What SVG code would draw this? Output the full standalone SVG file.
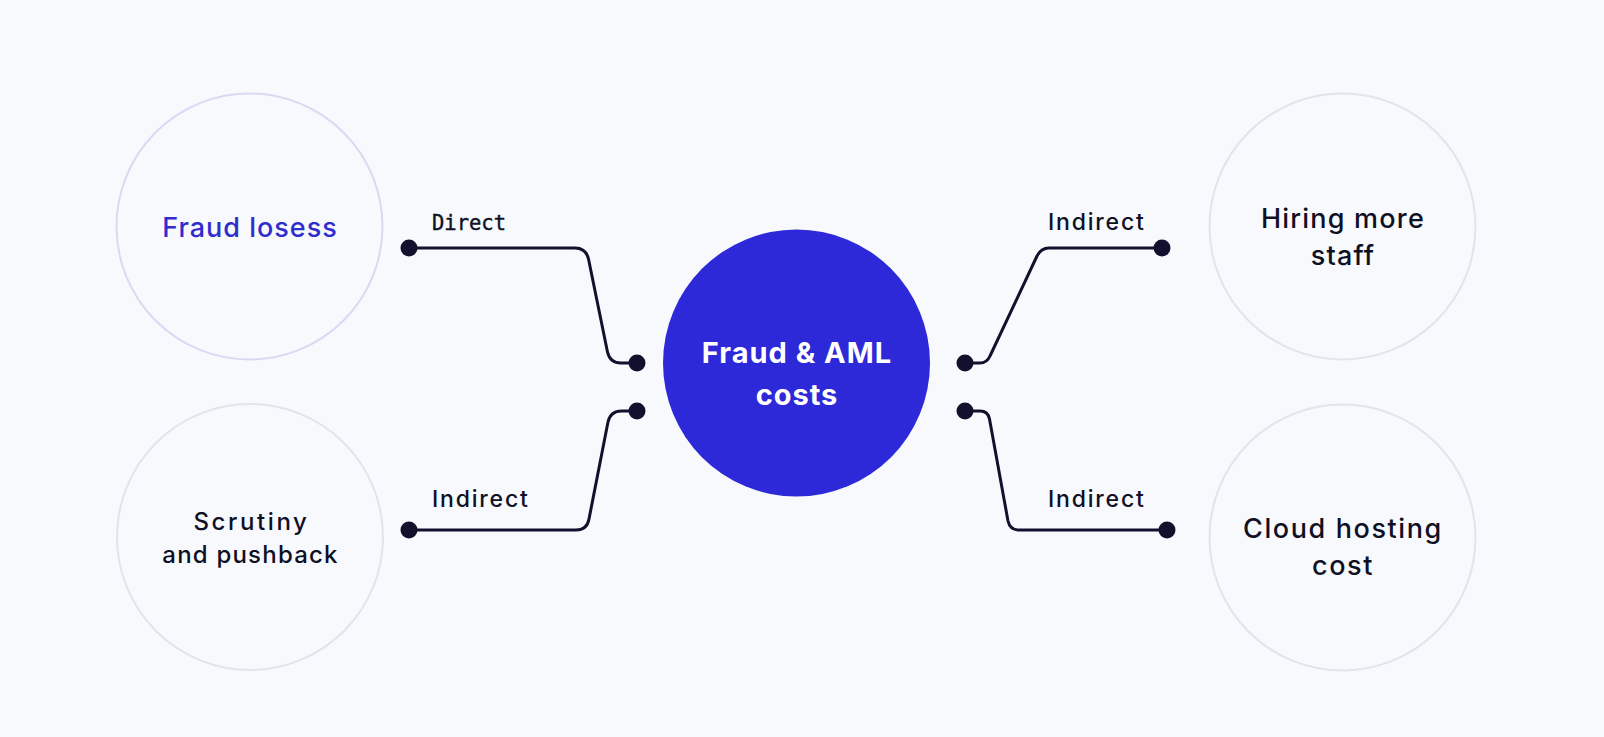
<svg xmlns="http://www.w3.org/2000/svg" width="1604" height="737" viewBox="0 0 1604 737">
  <style>
    .ring { fill: none; stroke: #e1e4ec; stroke-width: 2; }
    .ring-accent { fill: none; stroke: #d9d9f3; stroke-width: 2; }
    .label { font-family: Inter, "Liberation Sans", sans-serif; font-size: 27px; font-weight: 500; letter-spacing: 1.2px; fill: #0f1024; text-anchor: middle; }
    .edge-label { font-family: Inter, "Liberation Sans", sans-serif; font-size: 23px; font-weight: 500; letter-spacing: 1.8px; fill: #0f1024; }
    .mono { font-family: "DejaVu Sans Mono", "Liberation Mono", monospace; font-size: 20.5px; fill: #0f1024; stroke: #0f1024; stroke-width: 0.4px; }
    .wire { fill: none; stroke: #11112e; stroke-width: 3; stroke-linecap: round; stroke-linejoin: round; }
    .dot { fill: #11112e; }
  </style>
  <rect x="0" y="0" width="1604" height="737" fill="#f7f9fc"/>

  <g id="connectors">
    <path class="wire" d="M409,248 H575 Q586,248 588.5,259 L607.5,352 Q610,363 621,363 H637"/>
    <path class="wire" d="M409,530 H576 Q587,530 589,519 L608,422 Q610.5,411 621.5,411 H637"/>
    <path class="wire" d="M965,363 H980 Q987,363 990,356 L1037,256 Q1041,248 1049,248 H1162"/>
    <path class="wire" d="M965,411 H980 Q988,411 989.5,419 L1008,521 Q1010,530 1019,530 H1167"/>
    <circle class="dot" cx="409" cy="248" r="8.5"/>
    <circle class="dot" cx="637" cy="363" r="8.5"/>
    <circle class="dot" cx="409" cy="530" r="8.5"/>
    <circle class="dot" cx="637" cy="411" r="8.5"/>
    <circle class="dot" cx="965" cy="363" r="8.5"/>
    <circle class="dot" cx="1162" cy="248" r="8.5"/>
    <circle class="dot" cx="965" cy="411" r="8.5"/>
    <circle class="dot" cx="1167" cy="530" r="8.5"/>
    <text class="mono" x="432" y="230">Direct</text>
    <text class="edge-label" x="432" y="507">Indirect</text>
    <text class="edge-label" x="1048" y="230">Indirect</text>
    <text class="edge-label" x="1048" y="507">Indirect</text>
  </g>

  <g id="node-fraud-losses">
    <circle class="ring-accent" cx="249.5" cy="226.5" r="133"/>
    <text class="label" x="250" y="237" style="fill:#302ccd;letter-spacing:1px">Fraud losess</text>
  </g>

  <g id="node-scrutiny">
    <circle class="ring" cx="250" cy="537" r="133"/>
    <text class="label" x="251.5" y="530" style="font-size:24px;letter-spacing:2.6px">Scrutiny</text>
    <text class="label" x="250.5" y="563" style="font-size:24px;letter-spacing:1.2px">and pushback</text>
  </g>

  <g id="node-center">
    <circle cx="796.5" cy="363" r="133.5" fill="#2e29d8"/>
    <text class="label" x="797" y="363" style="fill:#ffffff;font-weight:700;font-size:29px;letter-spacing:1px">Fraud &amp; AML</text>
    <text class="label" x="797" y="405" style="fill:#ffffff;font-weight:700;font-size:29px;letter-spacing:1px">costs</text>
  </g>

  <g id="node-hiring">
    <circle class="ring" cx="1342.5" cy="226.5" r="133"/>
    <text class="label" x="1343" y="228">Hiring more</text>
    <text class="label" x="1343" y="265">staff</text>
  </g>

  <g id="node-cloud">
    <circle class="ring" cx="1342.5" cy="537.5" r="133"/>
    <text class="label" x="1343" y="538" style="letter-spacing:1.6px">Cloud hosting</text>
    <text class="label" x="1343" y="575" style="letter-spacing:1.6px">cost</text>
  </g>
</svg>
